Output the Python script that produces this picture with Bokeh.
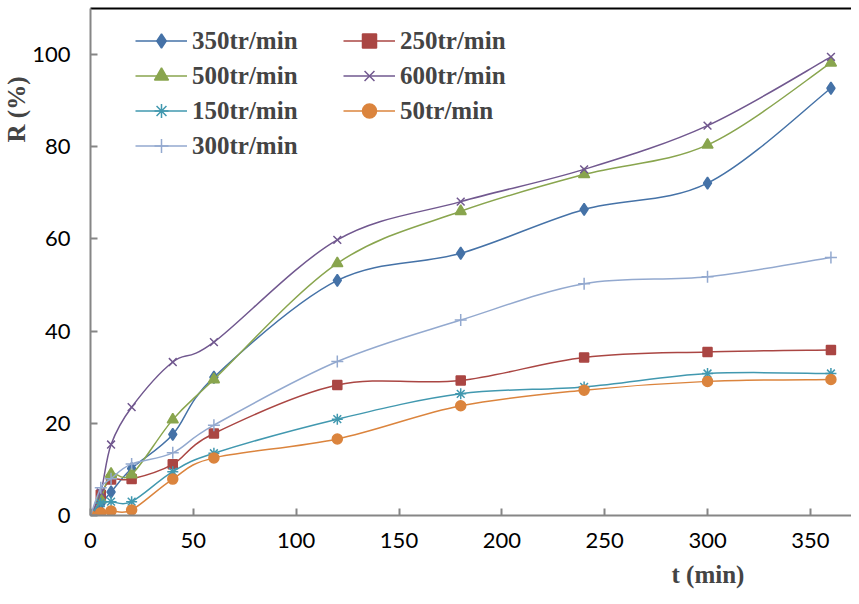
import numpy as np
from bokeh.plotting import figure
from bokeh.models import (Range1d, Legend, LegendItem, Title, LinearAxis, ColumnDataSource,
                          FixedTicker)
from bokeh.embed import file_html
from bokeh.resources import INLINE

# ---- data ----
t_min = [0, 5, 10, 20, 40, 60, 120, 180, 240, 300, 360]
r_350 = [0, 2.5, 5.1, 10.2, 17.6, 30.0, 51.0, 56.9, 66.4, 72.1, 92.7]
r_250 = [0, 4.5, 7.8, 7.9, 11.1, 17.8, 28.3, 29.3, 34.3, 35.5, 35.9]
r_500 = [0, 3.5, 9.0, 8.9, 20.8, 29.5, 54.7, 66.0, 74.0, 80.4, 98.2]
r_600 = [0, 5.0, 15.4, 23.5, 33.3, 37.6, 59.8, 68.1, 75.1, 84.6, 99.5]
r_150 = [0, 2.7, 3.0, 3.0, 9.5, 13.5, 20.9, 26.4, 27.9, 30.8, 30.8]
r_50 = [0, 0.6, 1.0, 1.2, 7.9, 12.5, 16.6, 23.8, 27.2, 29.1, 29.5]
r_300 = [0, 6.0, 8.0, 11.2, 13.6, 19.6, 33.4, 42.4, 50.3, 51.8, 56.0]

labels = ["350tr/min", "250tr/min", "500tr/min", "600tr/min", "150tr/min", "50tr/min", "300tr/min"]
x_ticks = [0, 50, 100, 150, 200, 250, 300, 350]
y_ticks = [0, 20, 40, 60, 80, 100]
x_title = "t (min)"
y_title = "R (%)"

series = [
    (labels[0], r_350, "#4572A7", "diamond", 12),
    (labels[1], r_250, "#AA4643", "square", 9),
    (labels[2], r_500, "#89A54E", "triangle", 11),
    (labels[3], r_600, "#71588F", "x", 11),
    (labels[4], r_150, "#4198AF", "asterisk", 11),
    (labels[5], r_50, "#DB843D", "circle", 10),
    (labels[6], r_300, "#93A9CF", "cross", 12),
]


def smooth_source(xs, ys, k=1.0 / 6.0):
    xs = np.asarray(xs, float)
    ys = np.asarray(ys, float)
    n = len(xs)
    d = dict(x0=[], y0=[], x1=[], y1=[], cx0=[], cy0=[], cx1=[], cy1=[])
    for i in range(n - 1):
        a = i - 1 if i > 0 else i
        b = i + 2 if i + 2 < n else i + 1
        d["x0"].append(xs[i]); d["y0"].append(ys[i])
        d["x1"].append(xs[i + 1]); d["y1"].append(ys[i + 1])
        d["cx0"].append(xs[i] + (xs[i + 1] - xs[a]) * k)
        d["cy0"].append(ys[i] + (ys[i + 1] - ys[a]) * k)
        d["cx1"].append(xs[i + 1] - (xs[b] - xs[i]) * k)
        d["cy1"].append(ys[i + 1] - (ys[b] - ys[i]) * k)
    return ColumnDataSource(d)


p = figure(width=851, height=596, output_backend="svg", toolbar_location=None,
           x_range=Range1d(0, 370), y_range=Range1d(0, 110),
           min_border_left=89, min_border_right=0, min_border_top=8, min_border_bottom=81)
p.grid.visible = False
p.outline_line_color = None
p.background_fill_color = "white"
p.border_fill_color = "white"

for ax, ticks in ((p.xaxis[0], x_ticks), (p.yaxis[0], y_ticks)):
    ax.ticker = FixedTicker(ticks=ticks)
    ax.axis_line_color = "#868686"
    ax.axis_line_width = 2
    ax.major_tick_line_color = "#868686"
    ax.major_tick_line_width = 2
    ax.major_tick_in = 7
    ax.major_tick_out = 0
    ax.minor_tick_line_color = None
    ax.major_label_text_font = "Lato"
    ax.major_label_text_font_size = "22px"
    ax.major_label_text_color = "black"
p.xaxis[0].major_label_standoff = 17
p.yaxis[0].major_label_standoff = 20

top_axis = LinearAxis(ticker=FixedTicker(ticks=[]), axis_line_color="black", axis_line_width=2,
                      major_tick_line_color=None, minor_tick_line_color=None,
                      major_tick_in=0, major_tick_out=0, major_label_standoff=0,
                      major_label_text_font_size="0px")
p.add_layout(top_axis, "above")

items = {}
for name, vals, col, mk, sz in series:
    src = smooth_source(t_min, vals)
    lr = p.bezier(x0="x0", y0="y0", x1="x1", y1="y1", cx0="cx0", cy0="cy0", cx1="cx1", cy1="cy1",
                  source=src, line_color=col, line_width=1.5)
    sr = p.scatter(t_min, vals, marker=mk, size=sz, fill_color=col, line_color=col, line_width=1.5)
    items[name] = LegendItem(label=name, renderers=[lr, sr])

leg_style = dict(border_line_color=None, background_fill_alpha=0, padding=0, margin=0, spacing=0,
                 glyph_width=52, glyph_height=35, label_height=35, label_standoff=5,
                 label_text_font="Liberation Serif", label_text_font_style="bold",
                 label_text_font_size="25px")
leg1 = Legend(items=[items[labels[i]] for i in (0, 2, 4, 6)], location=(45, 352), **leg_style)
leg2 = Legend(items=[items[labels[i]] for i in (1, 3, 5)], location=(253, 387), **leg_style)
p.add_layout(leg1)
p.add_layout(leg2)

title_style = dict(text_font="Liberation Serif", text_font_style="bold", text_font_size="25px")
p.add_layout(Title(text=x_title, align="left", offset=581, standoff=17, **title_style), "below")
p.add_layout(Title(text=y_title, align="right", offset=68, standoff=0, **title_style), "left")

open("out.html", "w").write(file_html(p, INLINE))
